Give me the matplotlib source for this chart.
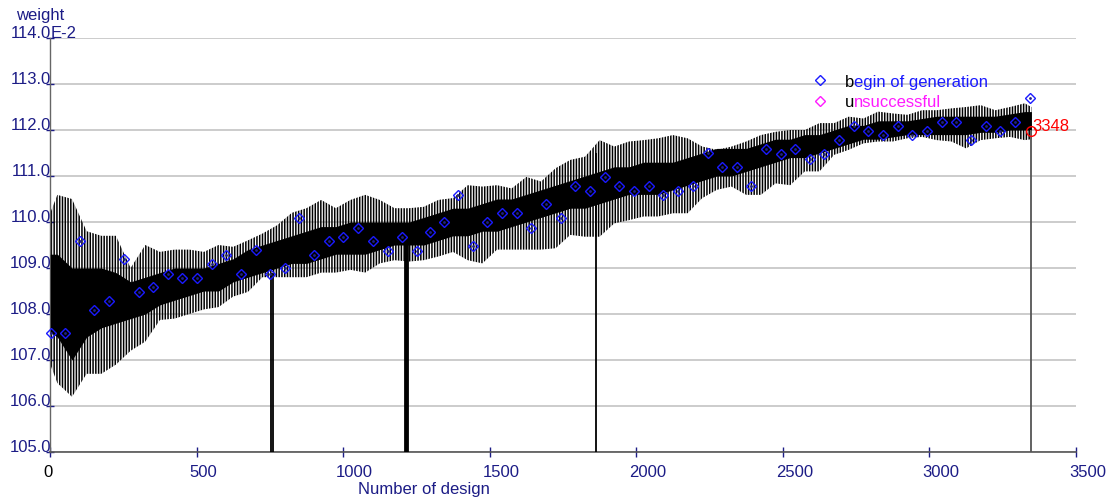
import matplotlib
matplotlib.use('Agg')
import matplotlib.pyplot as plt

# ---------------- data ----------------
# envelope of the noisy weight trace, per ~50-design bin
env_x = [1, 25, 75, 125, 175, 225, 275, 325, 375, 425, 475, 525, 575, 625, 675, 725, 775,
         825, 875, 925, 975, 1025, 1075, 1125, 1175, 1225, 1275, 1325, 1375, 1425, 1475,
         1525, 1575, 1625, 1675, 1725, 1775, 1825, 1875, 1925, 1975, 2025, 2075, 2125,
         2175, 2225, 2275, 2325, 2375, 2425, 2475, 2525, 2575, 2625, 2675, 2725, 2775,
         2825, 2875, 2925, 2975, 3025, 3075, 3125, 3175, 3225, 3275, 3325, 3348]
env_hi = [110.2, 110.59, 110.5, 109.8, 109.7, 109.7, 109.0, 109.5, 109.35, 109.4, 109.4, 109.35,
          109.5, 109.46, 109.6, 109.75, 109.93, 110.2, 110.3, 110.48, 110.3, 110.48, 110.59,
          110.48, 110.3, 110.3, 110.33, 110.48, 110.52, 110.8, 110.77, 110.8, 110.73, 110.98,
          110.88, 111.17, 111.35, 111.42, 111.78, 111.64, 111.75, 111.78, 111.82, 111.89,
          111.82, 111.64, 111.57, 111.64, 111.75, 111.89, 111.96, 112.0, 112.0, 112.15,
          112.15, 112.29, 112.25, 112.4, 112.36, 112.33, 112.43, 112.43, 112.47, 112.5,
          112.54, 112.43, 112.5, 112.58, 112.5]
env_lo = [106.9, 106.5, 106.2, 106.7, 106.7, 106.9, 107.2, 107.4, 107.87, 107.9, 108.0, 108.1,
          108.15, 108.38, 108.48, 108.8, 108.8, 108.8, 108.8, 108.9, 108.9, 108.96, 108.9,
          109.1, 109.17, 109.14, 109.17, 109.25, 109.35, 109.17, 109.1, 109.4, 109.4, 109.4,
          109.4, 109.43, 109.72, 109.68, 109.68, 109.97, 110.04, 110.12, 110.12, 110.19,
          110.19, 110.52, 110.7, 110.77, 110.59, 110.59, 110.84, 110.8, 111.1, 111.1, 111.46,
          111.57, 111.71, 111.75, 111.75, 111.82, 111.85, 111.78, 111.75, 111.6, 111.78,
          111.82, 111.85, 111.78, 111.8]
core_lo = [107.6, 107.5, 107.0, 107.5, 107.7, 107.8, 107.9, 108.0, 108.2, 108.3, 108.4, 108.5,
           108.5, 108.7, 108.8, 108.9, 109.0, 109.1, 109.1, 109.2, 109.3, 109.3, 109.3, 109.4,
           109.5, 109.5, 109.5, 109.6, 109.7, 109.7, 109.8, 109.8, 109.9, 110.0, 110.1, 110.2,
           110.3, 110.3, 110.4, 110.5, 110.6, 110.6, 110.6, 110.7, 110.8, 110.9, 111.0, 111.0,
           111.1, 111.2, 111.3, 111.4, 111.4, 111.5, 111.6, 111.7, 111.8, 111.8, 111.85, 111.9,
           111.9, 111.9, 111.9, 111.9, 111.95, 111.95, 112.0, 112.0, 112.0]
core_hi = [109.3, 109.3, 109.0, 109.0, 109.0, 108.9, 108.7, 108.8, 108.9, 109.0, 109.0, 109.0,
           109.1, 109.2, 109.4, 109.5, 109.6, 109.7, 109.8, 109.9, 109.9, 110.0, 110.0, 110.0,
           110.0, 110.0, 110.1, 110.2, 110.3, 110.3, 110.4, 110.5, 110.5, 110.6, 110.7, 110.8,
           110.9, 111.0, 111.1, 111.2, 111.2, 111.3, 111.3, 111.3, 111.4, 111.5, 111.6, 111.6,
           111.6, 111.7, 111.8, 111.8, 111.9, 111.9, 112.0, 112.1, 112.1, 112.2, 112.2, 112.2,
           112.25, 112.3, 112.3, 112.3, 112.3, 112.3, 112.35, 112.4, 112.4]

# designs whose weight dropped out of range (failed designs)
drop_x = [755, 762, 1210, 1213, 1216, 1219, 1222, 1863]
drop_top = [108.9, 108.9, 109.5, 109.5, 109.5, 109.5, 109.5, 111.5]

# begin of generation markers
gen_x = [5, 52, 102, 151, 201, 251, 302, 351, 401, 451, 501, 552, 601, 652, 702, 752, 802,
         851, 901, 951, 1001, 1052, 1101, 1152, 1202, 1252, 1298, 1345, 1393, 1442, 1492,
         1542, 1592, 1642, 1692, 1742, 1792, 1842, 1892, 1942, 1992, 2043, 2092, 2143, 2193,
         2243, 2293, 2343, 2390, 2442, 2492, 2542, 2592, 2642, 2692, 2742, 2792, 2842, 2892,
         2942, 2992, 3042, 3092, 3142, 3192, 3242, 3292, 3342]
gen_y = [107.59, 107.58, 109.59, 108.09, 108.29, 109.19, 108.48, 108.59, 108.88, 108.79,
         108.79, 109.09, 109.28, 108.88, 109.39, 108.88, 108.99, 110.08, 109.28, 109.59,
         109.68, 109.88, 109.59, 109.38, 109.68, 109.38, 109.78, 109.99, 110.59, 109.48,
         109.99, 110.19, 110.19, 109.88, 110.39, 110.08, 110.79, 110.68, 110.98, 110.79,
         110.68, 110.79, 110.59, 110.68, 110.79, 111.49, 111.19, 111.19, 110.79, 111.59,
         111.48, 111.59, 111.38, 111.48, 111.78, 112.09, 111.98, 111.89, 112.09, 111.89,
         111.98, 112.18, 112.18, 111.78, 112.09, 111.98, 112.18, 112.69]

last_design = 3348
last_weight = 111.98

x_ticks = [0, 500, 1000, 1500, 2000, 2500, 3000, 3500]
x_tick_labels = ['0', '500', '1000', '1500', '2000', '2500', '3000', '3500']
y_ticks = [105, 106, 107, 108, 109, 110, 111, 112, 113, 114]
y_tick_labels = ['105.0', '106.0', '107.0', '108.0', '109.0', '110.0', '111.0', '112.0', '113.0', '114.0']

# ---------------- style ----------------
W, H, DPI = 1117, 504, 100
NAVY = '#1c1c86'
BLUE = '#1a1aff'
MAG = '#ff1aff'
FONT = 'Liberation Sans'
FS = 12
plt.rcParams['font.family'] = [FONT, 'DejaVu Sans']
plt.rcParams['hatch.linewidth'] = 1.1
plt.rcParams['hatch.color'] = 'black'

fig = plt.figure(figsize=(W / DPI, H / DPI), dpi=DPI)
ax = fig.add_axes([50 / W, 52 / H, 1026 / W, 414 / H])
ax.set_xlim(0, 3500)
ax.set_ylim(105, 114)

# grid
for v in y_ticks:
    ax.axhline(v, color='#c4c4c4', lw=1.2, zorder=0)

# noisy trace, drawn as spiky envelope + dense core
ax.fill_between(env_x, env_lo, env_hi, facecolor='none', edgecolor='black', hatch='||||||',
                lw=0, zorder=2)
ax.fill_between(env_x, core_lo, core_hi, color='black', lw=0, zorder=3)
ax.vlines(drop_x, 104, drop_top, color='black', lw=1.3, zorder=3)

# generation markers
ax.plot(gen_x, gen_y, 'D', mfc='none', mec=BLUE, ms=5.3, mew=1.0, zorder=5, clip_on=False)
ax.plot(gen_x, gen_y, 'o', color='#20208a', ms=2.0, mew=0, zorder=5, clip_on=False)

# last design
ax.vlines([last_design], 104, last_weight, color='#555555', lw=1.3, zorder=4)
ax.plot([last_design], [last_weight], 'o', mfc='none', mec='red', ms=7, mew=1.0, zorder=6)
ax.annotate(str(last_design), xy=(last_design, last_weight), xytext=(1, 0),
            textcoords='offset pixels', color='red', fontsize=FS, ha='left', va='baseline')

# spines and ticks
for s in ['top', 'right']:
    ax.spines[s].set_visible(False)
ax.spines['left'].set_color('#666666')
ax.spines['bottom'].set_color('#555555')
ax.spines['left'].set_linewidth(1.0)
ax.spines['bottom'].set_linewidth(1.2)
ax.set_xticks(x_ticks)
ax.set_yticks(y_ticks)
ax.set_xticklabels([])
ax.set_yticklabels([])
ax.tick_params(axis='x', direction='inout', length=7, width=1, color=NAVY)
ax.tick_params(axis='y', direction='inout', length=6, width=1, color=NAVY)

for t, lab in zip(x_ticks, x_tick_labels):
    ax.annotate(lab, xy=(t, 0), xycoords=('data', 'axes fraction'), xytext=(-7, -25),
                textcoords='offset pixels', ha='left', va='baseline', fontsize=FS,
                color='black' if lab == '0' else NAVY, annotation_clip=False)
for v, lab in zip(y_ticks, y_tick_labels):
    ax.annotate(lab, xy=(0, v), xycoords=('axes fraction', 'data'), xytext=(1, 0),
                textcoords='offset pixels', ha='right', va='baseline', fontsize=FS,
                color=NAVY, annotation_clip=False)
ax.annotate('E-2', xy=(0, y_ticks[-1]), xycoords=('axes fraction', 'data'), xytext=(1, 0),
            textcoords='offset pixels', ha='left', va='baseline', fontsize=FS, color=NAVY,
            annotation_clip=False)

fig.text(16 / W, 1 - 20 / H, 'weight', ha='left', va='baseline', fontsize=FS, color=NAVY)
fig.text(358 / W, 1 - 494 / H, 'Number of design', ha='left', va='baseline', fontsize=FS, color=NAVY)

# legend
legend_items = [('b', 'egin of generation', BLUE), ('u', 'nsuccessful', MAG)]
for i, (first, rest, col) in enumerate(legend_items):
    my = 80 + 21 * i
    ty = 87 + 20 * i
    fig.add_artist(plt.Line2D([820 / W], [1 - my / H], marker='D', mfc='none', mec=col,
                              ms=5.3, mew=1.0, transform=fig.transFigure))
    t1 = fig.text(845 / W, 1 - ty / H, first, ha='left', va='baseline', fontsize=FS, color='black')
    ax.annotate(rest, xy=(1, 0), xycoords=t1, ha='left', va='bottom',
                fontsize=FS, color=col, annotation_clip=False)

fig.savefig('out.png', dpi=DPI)
